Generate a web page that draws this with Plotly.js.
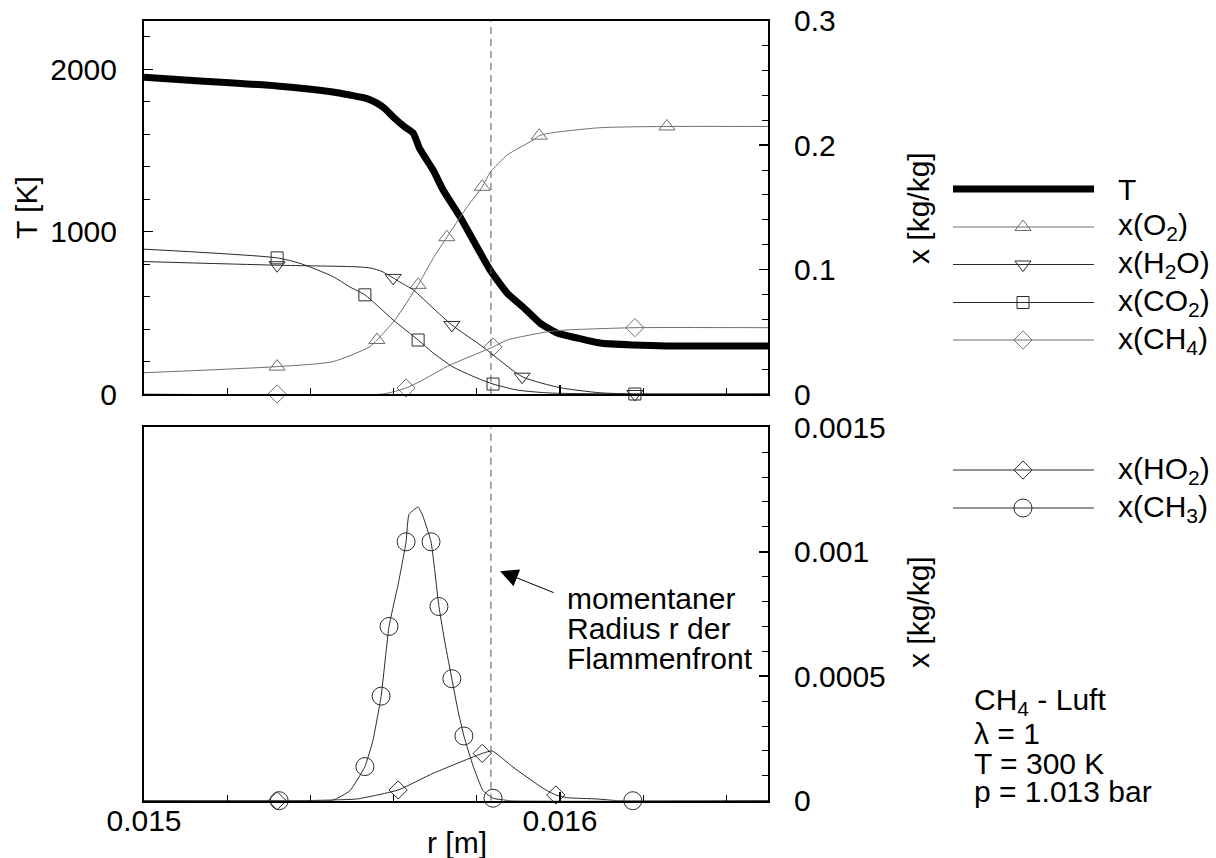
<!DOCTYPE html>
<html><head><meta charset="utf-8">
<script src="https://cdn.plot.ly/plotly-3.0.1.min.js"></script>
<style>html,body{margin:0;padding:0;background:#fff}#chart{width:1216px;height:858px}</style>
</head><body><div id="chart"></div>
<script>
// ---------- data ----------
const rT  = [0.015,0.015135,0.01532,0.015454,0.015495,0.015536,0.01556,0.015579,0.015599,0.015627,0.015647,0.015663,0.015695,0.015719,0.01576,0.015791,0.015832,0.015873,0.015911,0.015952,0.015993,0.016041,0.016096,0.016175,0.016257,0.0165];
const T   = [1951,1929,1898,1861,1842,1820,1792,1758,1707,1645,1608,1510,1380,1257,1091,949,764,622,536,437,376,345,314,302,296,296];

const rO2 = [0.015,0.01532,0.015454,0.015543,0.01556,0.015603,0.015659,0.015695,0.015728,0.015776,0.015813,0.015832,0.015873,0.015935,0.01595,0.015983,0.016096,0.016257,0.0165];
const O2  = [0.0171,0.022,0.026,0.038,0.0434,0.0595,0.0877,0.109,0.126,0.150,0.1665,0.178,0.192,0.204,0.2076,0.210,0.214,0.215,0.215];
const rO2m = [0.01532,0.01556,0.015659,0.015728,0.015813,0.01595,0.016257];
const O2m  = [0.022,0.0434,0.0877,0.126,0.1665,0.2076,0.215];

const rH2O = [0.015,0.01532,0.015512,0.015545,0.015572,0.015599,0.015615,0.015647,0.015695,0.01574,0.015815,0.015909,0.016,0.016096,0.01618,0.0165];
const H2O  = [0.1064,0.1035,0.1022,0.1012,0.0985,0.0933,0.090,0.0837,0.069,0.0555,0.0378,0.0139,0.0051,0.001,0,0];
const rH2Om = [0.01532,0.015599,0.01574,0.015909,0.01618];
const H2Om  = [0.1035,0.0933,0.0555,0.0139,0];

const rCO2 = [0.015,0.01532,0.015375,0.015454,0.015495,0.015531,0.015599,0.015659,0.015695,0.015743,0.0158,0.015839,0.015897,0.015976,0.016175,0.0165];
const CO2  = [0.1164,0.1094,0.105,0.0944,0.086,0.0797,0.0595,0.0434,0.033,0.0217,0.0129,0.008,0.0032,0.0008,0,0];
const rCO2m = [0.01532,0.015531,0.015659,0.015839,0.01618];
const CO2m  = [0.1094,0.0797,0.0434,0.008,0];

const rCH4 = [0.015,0.015575,0.01563,0.015663,0.015736,0.015839,0.015873,0.015969,0.016017,0.01618,0.0165];
const CH4  = [0,0,0.0048,0.010,0.0233,0.0378,0.0434,0.050,0.0515,0.0533,0.0533];
const rCH4m = [0.01532,0.01563,0.015839,0.01618];
const CH4m  = [0,0.0048,0.0378,0.0533];

const rCH3 = [0.015,0.015368,0.015454,0.015495,0.015531,0.01555,0.01557,0.015589,0.015611,0.01563,0.015637,0.015659,0.015671,0.01569,0.015709,0.015724,0.01574,0.015755,0.015769,0.015791,0.015815,0.015839,0.01588,0.0165];
const CH3  = [0,0,0.000002,0.00004,0.000137,0.00024,0.00042,0.0007,0.00087,0.00104,0.00115,0.00118,0.00114,0.00104,0.00078,0.00063,0.00049,0.00036,0.00026,0.00014,0.00004,0.00001,0,0];
const rCH3m = [0.015325,0.015531,0.01557,0.015589,0.01563,0.01569,0.015709,0.01574,0.015769,0.015839,0.016175];
const CH3m  = [0,0.000137,0.00042,0.0007,0.00104,0.00104,0.00078,0.00049,0.00026,0.00001,0];

const rHO2 = [0.015,0.015375,0.015512,0.015611,0.015695,0.015813,0.015837,0.015887,0.015959,0.01599,0.016017,0.016089,0.01614,0.0165];
const HO2  = [0,0,0.000007,0.000043,0.00011,0.00019,0.0002,0.000135,0.00005,0.000023,0.000012,0.000007,0,0];
const rHO2m = [0.01532,0.015611,0.015813,0.01599];
const HO2m  = [0,0.000043,0.00019,0.000023];

const rFront = 0.015834;
const rRange = [0.015,0.0165];
const TRange = [0,2300];
const xTopRange = [0,0.3];
const xBotRange = [0,0.0015];

const legendTopNames = ['T','x(O<sub>2</sub>)','x(H<sub>2</sub>O)','x(CO<sub>2</sub>)','x(CH<sub>4</sub>)'];
const legendBotNames = ['x(HO<sub>2</sub>)','x(CH<sub>3</sub>)'];
const frontText = ['momentaner','Radius r der','Flammenfront'];
const infoText = ['CH<sub>4</sub> - Luft','\u03bb = 1','T = 300 K','p = 1.013 bar'];

// ---------- styling / layout ----------
const W=1216, H=858;
const FONT='"Liberation Sans", Arial, Helvetica, sans-serif';
const FS=30;
const PX=v=>v/W, PY=v=>1-v/H;
const L=144, R=768, T1=20.7, B1=394, T2=427.3, B2=800.7;
const xDom=[PX(L),PX(R)];
const yDomTop=[PY(B1),PY(T1)];
const yDomBot=[PY(B2),PY(T2)];
const GRAY='#6e6e6e', DARK='#2a2a2a';

const styles = {
  O2:{color:GRAY,sym:'triangle-up-open',size:14},
  H2O:{color:DARK,sym:'triangle-down-open',size:14},
  CO2:{color:DARK,sym:'square-open',size:12},
  CH4:{color:GRAY,sym:'diamond-open',size:14},
  HO2:{color:DARK,sym:'diamond-open',size:14},
  CH3:{color:DARK,sym:'circle-open',size:18}
};

function lineTrace(x,y,xa,ya,color,w,smooth){
  const ln={color:color,width:w||1};
  if(smooth){ ln.shape='spline'; ln.smoothing=smooth; }
  return {type:'scatter',mode:'lines',x:x,y:y,xaxis:xa,yaxis:ya,line:ln,hoverinfo:'skip',showlegend:false};
}
function markTrace(x,y,xa,ya,st){
  return {type:'scatter',mode:'markers',x:x,y:y,xaxis:xa,yaxis:ya,cliponaxis:false,
    marker:{symbol:st.sym,size:st.size,color:st.color,line:{color:st.color,width:1}},hoverinfo:'skip',showlegend:false};
}

const traces=[
  lineTrace(rO2,O2,'x','y2',styles.O2.color,1,0.6), markTrace(rO2m,O2m,'x','y2',styles.O2),
  lineTrace(rH2O,H2O,'x','y2',styles.H2O.color,1,0.6), markTrace(rH2Om,H2Om,'x','y2',styles.H2O),
  lineTrace(rCO2,CO2,'x','y2',styles.CO2.color,1,0.6), markTrace(rCO2m,CO2m,'x','y2',styles.CO2),
  lineTrace(rCH4,CH4,'x','y2',styles.CH4.color,1,0.5), markTrace(rCH4m,CH4m,'x','y2',styles.CH4),
  lineTrace(rT,T,'x','y','#000',7,0.5),
  lineTrace(rHO2,HO2,'x2','y3',styles.HO2.color,1,0.4), markTrace(rHO2m,HO2m,'x2','y3',styles.HO2),
  lineTrace(rCH3,CH3,'x2','y4',styles.CH3.color,1,0.4), markTrace(rCH3m,CH3m,'x2','y4',styles.CH3)
];

// legend samples drawn on a hidden full-page axis pair (pixel units)
const LX0=953, LX1=1094, LXM=1023, LTX=1116;
const topRows=[189,227,264.5,302.5,340];
const botRows=[470,508];
const topSt=[null,styles.O2,styles.H2O,styles.CO2,styles.CH4];
const botSt=[styles.HO2,styles.CH3];
topRows.forEach((y,i)=>{
  if(i===0){ traces.push(lineTrace([LX0,LX1],[y,y],'x3','y5','#000',7)); }
  else { traces.push(lineTrace([LX0,LX1],[y,y],'x3','y5',topSt[i].color)); traces.push(markTrace([LXM],[y],'x3','y5',topSt[i])); }
});
botRows.forEach((y,i)=>{
  traces.push(lineTrace([LX0,LX1],[y,y],'x3','y5',botSt[i].color)); traces.push(markTrace([LXM],[y],'x3','y5',botSt[i]));
});

const tf={family:FONT,size:FS,color:'#000'};
function axis(extra){
  return Object.assign({showgrid:false,zeroline:false,showline:true,linecolor:'#000',linewidth:2,
    ticks:'inside',ticklen:9,tickwidth:1.5,tickcolor:'#000',tickfont:tf,fixedrange:true,exponentformat:'none'},extra);
}
function minor(d){ return {dtick:d,ticks:'inside',ticklen:6,tickwidth:1,tickcolor:'#000',showgrid:false}; }

const ann=[];
function txt(s,x,y,o){ ann.push(Object.assign({text:s,x:PX(x),y:PY(y),xref:'paper',yref:'paper',showarrow:false,font:tf,xanchor:'left',yanchor:'middle'},o||{})); }
txt('T [K]',26,208,{xanchor:'center',textangle:-90});
txt('x [kg/kg]',918,208,{xanchor:'center',textangle:-90});
txt('x [kg/kg]',918,612,{xanchor:'center',textangle:-90});
txt('r [m]',457,842,{xanchor:'center'});
legendTopNames.forEach((s,i)=>txt(s,LTX,topRows[i]));
legendBotNames.forEach((s,i)=>txt(s,LTX,botRows[i]));
const frontY=[598,628,658];
frontText.forEach((s,i)=>txt(s,565,frontY[i]));
const infoY=[701,733,763,791];
infoText.forEach((s,i)=>txt(s,972,infoY[i]));
// arrow pointing at the flame front line
ann.push({x:0.015856,y:0.000922,xref:'x2',yref:'y3',text:'',showarrow:true,ax:55,ay:22,axref:'pixel',ayref:'pixel',
  arrowhead:2,arrowsize:3.6,arrowwidth:1,arrowcolor:'#000',standoff:0,startstandoff:0});

const layout={
  width:W,height:H,margin:{l:0,r:0,t:0,b:0},paper_bgcolor:'#fff',plot_bgcolor:'rgba(0,0,0,0)',
  showlegend:false,font:tf,
  xaxis:axis({domain:xDom,anchor:'y',range:rRange,tick0:0.015,dtick:0.001,minor:Object.assign(minor(0.0002),{tick0:0.015}),showticklabels:false,mirror:true}),
  yaxis:axis({domain:yDomTop,anchor:'x',range:TRange,dtick:1000,minor:minor(200),ticklabelstandoff:19}),
  yaxis2:axis({overlaying:'y',side:'right',anchor:'x',range:xTopRange,dtick:0.1,minor:minor(0.02),ticklabelstandoff:18}),
  xaxis2:axis({domain:xDom,anchor:'y3',range:rRange,tick0:0.015,dtick:0.001,minor:Object.assign(minor(0.0002),{tick0:0.015}),mirror:true,ticklabelstandoff:-8}),
  yaxis3:axis({domain:yDomBot,anchor:'x2',range:xBotRange,ticks:'',showticklabels:false}),
  yaxis4:axis({overlaying:'y3',side:'right',anchor:'x2',range:xBotRange,dtick:0.0005,minor:minor(0.0001),ticklabelstandoff:18}),
  xaxis3:{domain:[0,1],anchor:'y5',range:[0,W],visible:false,fixedrange:true},
  yaxis5:{domain:[0,1],anchor:'x3',range:[H,0],visible:false,fixedrange:true},
  shapes:[
    {type:'line',xref:'x',yref:'y domain',x0:rFront,x1:rFront,y0:0,y1:1,line:{color:'#555',width:1,dash:'7px,5px'}},
    {type:'line',xref:'x2',yref:'y3 domain',x0:rFront,x1:rFront,y0:0,y1:1,line:{color:'#555',width:1,dash:'7px,5px'}}
  ],
  annotations:ann
};
Plotly.newPlot('chart',traces,layout,{staticPlot:true,displayModeBar:false});
</script></body></html>
